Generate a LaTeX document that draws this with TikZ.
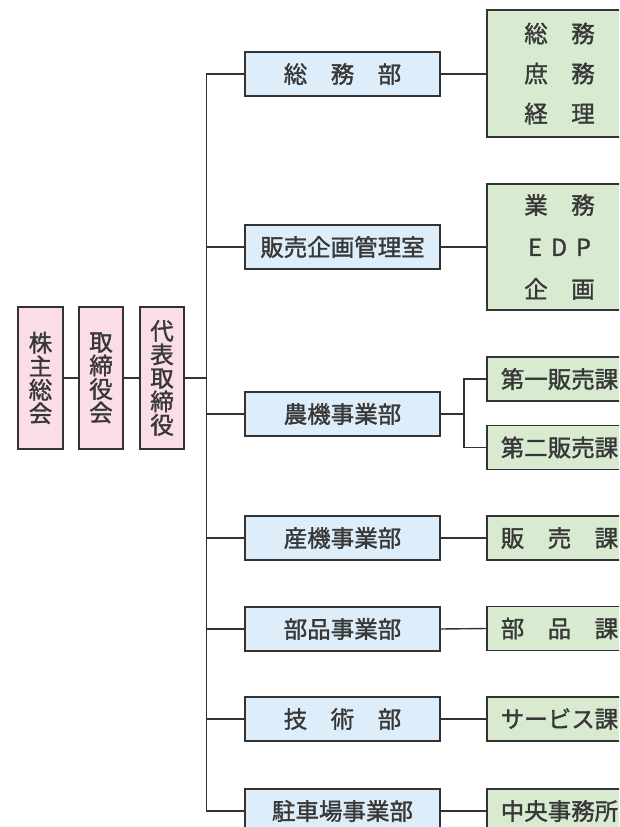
\documentclass[tikz,border=0pt]{standalone}
\usepackage{fontspec}
\setmainfont{Noto Sans CJK JP}[FakeBold=1.4]
\definecolor{pinkf}{HTML}{FADDE8}
\definecolor{bluef}{HTML}{DDEEFA}
\definecolor{greenf}{HTML}{D8EBD0}
\definecolor{linec}{HTML}{333333}
\definecolor{textc}{HTML}{383838}
\begin{document}
\begin{tikzpicture}[x=1pt,y=-1pt,
  box/.style={draw=linec, line width=1.4pt, inner sep=0pt, text=textc,
    font=\fontsize{23.5}{23.5}\selectfont, align=center},
  pinkbox/.style={box, fill=pinkf, minimum width=44pt, minimum height=142pt},
  bluebox/.style={box, fill=bluef, minimum width=195pt, minimum height=44pt},
  greenbox/.style={box, fill=greenf, minimum width=145pt, minimum height=44pt},
  conn/.style={draw=linec, line width=1.4pt}]
\useasboundingbox (0,0) rectangle (619,827);
\fill[white] (0,0) rectangle (619,827);
\clip (0,0) rectangle (619,827);
% pink column
\node[pinkbox, minimum width=45pt] (p1) at (40.5,378) {株\\主\\総\\会};
\node[pinkbox] (p2) at (101,378) {取\\締\\役\\会};
\node[pinkbox] (p3) at (162,378) {代\\表\\取\\締\\役};
% blue column
\node[bluebox] (b1) at (342.5,74) {総　務　部};
\node[bluebox] (b2) at (342.5,247) {販売企画管理室};
\node[bluebox] (b3) at (342.5,414) {農機事業部};
\node[bluebox] (b4) at (342.5,538) {産機事業部};
\node[bluebox] (b5) at (342.5,629) {部品事業部};
\node[bluebox] (b6) at (342.5,719) {技　術　部};
\node[bluebox] (b7) at (342.5,811) {駐車場事業部};
% green column
\node[greenbox, minimum height=127pt, font=\fontsize{23.5}{40}\selectfont] (g1) at (559.5,73.5) {総　務\\庶　務\\経　理};
\node[greenbox, minimum height=126pt, font=\fontsize{23.5}{42}\selectfont] (g2) at (559.5,247) {業　務\\E\hspace{9pt}D\hspace{9pt}P\\企　画};
\node[greenbox] (g3a) at (559.5,379) {第一販売課};
\node[greenbox] (g3b) at (559.5,447.5) {第二販売課};
\node[greenbox] (g4) at (559.5,538) {販　売　課};
\node[greenbox] (g5) at (559.5,628.5) {部　品　課};
\node[greenbox] (g6) at (559.5,719) {サービス課};
\node[greenbox] (g7) at (559.5,811) {中央事務所};
% connectors
\coordinate (tbot) at (206.5,811);
\coordinate (br) at (464,414);
\draw[conn] (p1.east) -- (p2.west);
\draw[conn] (p2.east) -- (p3.west);
\draw[conn] (b1.west) -| (tbot) -- (b7.west);
\draw[conn] (p3.east) -- (p3.east -| tbot);
\foreach \b in {b2,b3,b4,b5,b6} \draw[conn] (\b.west) -- (\b.west -| tbot);
\draw[conn] (b1.east) -- (b1.east -| g1.west);
\draw[conn] (b2.east) -- (b2.east -| g2.west);
\draw[conn] (b3.east) -- (br);
\draw[conn] (g3a.west) -| (br) |- (g3b.west);
\draw[conn] (b4.east) -- (g4.west);
\draw[conn] (b5.east) -- (g5.west);
\draw[conn] (b6.east) -- (g6.west);
\draw[conn] (b7.east) -- (g7.west);
\end{tikzpicture}
\end{document}
